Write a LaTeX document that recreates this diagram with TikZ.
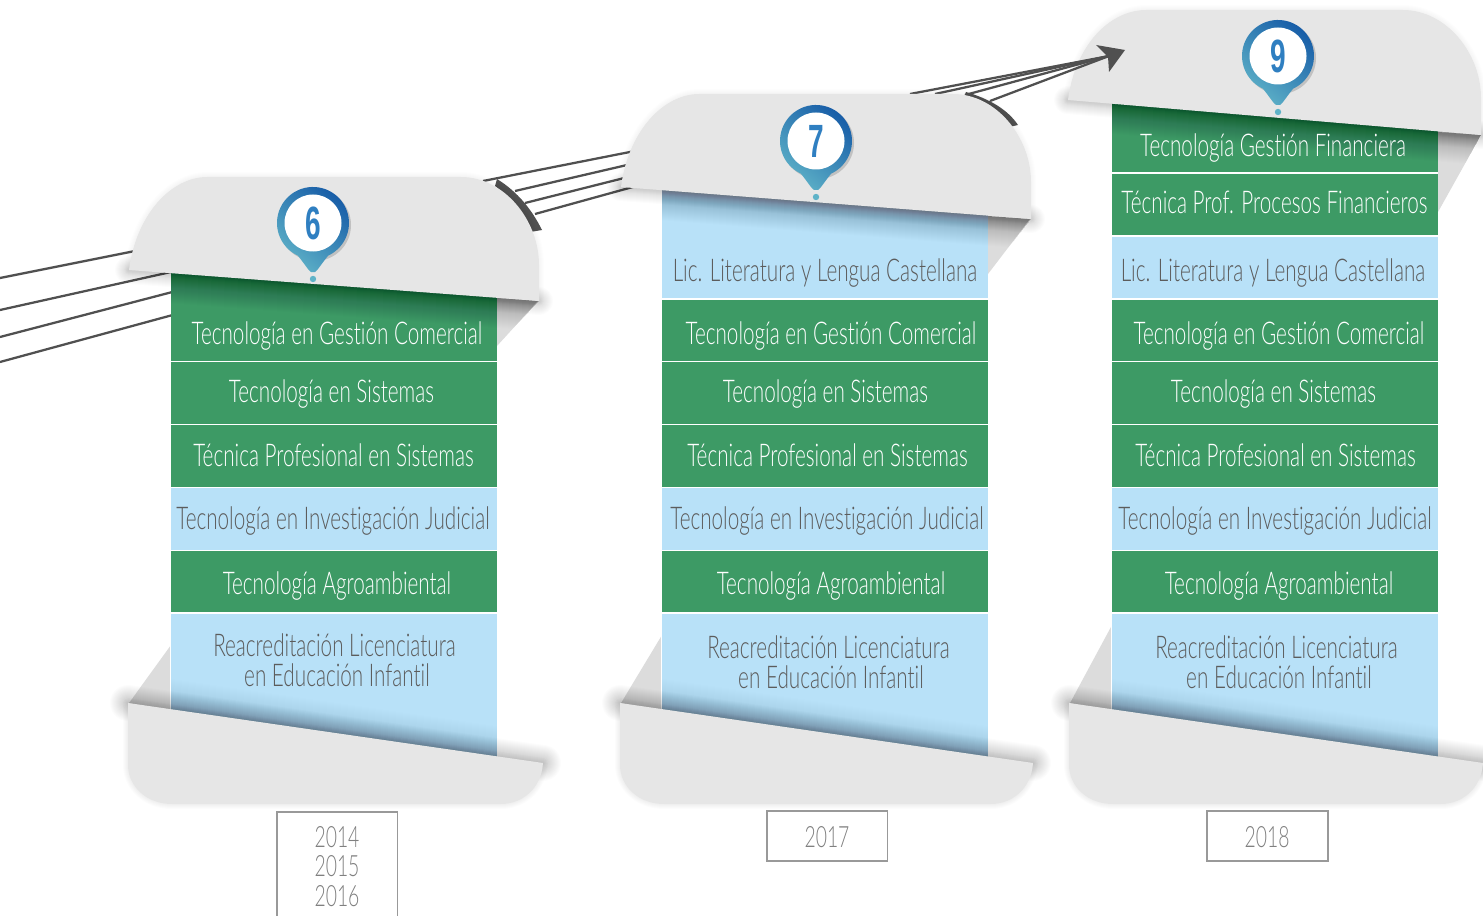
\documentclass[tikz,border=0pt]{standalone}
\usepackage{fontspec}
\usetikzlibrary{arrows.meta}
\setmainfont{Lato Light}[FakeStretch=0.66,Ligatures=NoCommon]
\newfontfamily\numfont{Liberation Sans Bold}[FakeStretch=0.6]
\definecolor{gr}{HTML}{3D9A65}
\definecolor{lb}{HTML}{B8E1F8}
\definecolor{fl}{HTML}{E6E6E6}
\definecolor{tl}{HTML}{DCDCDC}
\definecolor{ln}{HTML}{505050}
\definecolor{pinA}{HTML}{1459A6}
\definecolor{pinB}{HTML}{5FB3C8}
\definecolor{numc}{HTML}{2F7FC1}
\definecolor{dk}{HTML}{5C5C5C}
\tikzset{
 rowg/.style={fill=gr},
 rowb/.style={fill=lb},
 wt/.style={text=white,font=\fontsize{23.5}{26}\selectfont,inner sep=0pt,anchor=base,yshift=-7.5pt},
 dt/.style={text=dk,font=\fontsize{23.5}{24}\selectfont,inner sep=0pt,anchor=base,yshift=-7.5pt},
 yr/.style={text=black!50,font=\fontsize{22}{22.2}\selectfont,inner sep=0pt,anchor=base,yshift=-7.5pt},
 yrbox/.style={draw=black!40,line width=.9pt},
 wire/.style={draw=ln,line width=1.7pt},
 flapf/.style={fill=fl},
}
\newcommand\soft[2]{\foreach \w in {2,4,...,#1}{\draw[line width=\w*.75pt,black,opacity=#2,line join=round,line cap=round] \thepathx;}}
\newcommand\rowscommon[1]{%
 \fill[rowg] (#1,300) rectangle ++(326,60.5);
 \fill[rowg] (#1,362) rectangle ++(326,61.5);
 \fill[rowg] (#1,425) rectangle ++(326,61.5);
 \fill[rowb] (#1,488) rectangle ++(326,61.5);
 \fill[rowg] (#1,551) rectangle ++(326,61);
 \fill[rowb] (#1,614) rectangle ++(326,146);
 \fill[white] (#1-1,612) rectangle ++(1,98);
}
\newcommand\rowtexts[3]{%
 \node[wt] (#3a) at (831+#1,334) {Tecnología en Gestión Comercial};
 \node[wt] (#3b) at (825.5+#1,392) {Tecnología en Sistemas};
 \node[wt] (#3c) at (827.5+#1,456) {Técnica Profesional en Sistemas};
 \node[dt] (#3d) at (827+#1,519) {Tecnología en Investigación Judicial};
 \node[wt] (#3e) at (831+#1,584) {Tecnología Agroambiental};
 \node[dt] (#3f) at (828.5+#1,646+#2) {Reacreditación Licenciatura};
 \node[dt] (#3g) at (831+#1,676+#2) {en Educación Infantil};
}
% upper flap: #1 band x, #2 lx,#3 ly,#4 rx,#5 ry,#6 top, #7 tail bottom
\newcommand\upflap[7]{%
 \def\thepathx{(#2,#3) .. controls (#2+7,#3-55) and (#2+42,#6) .. (#2+78,#6) -- (#4-78,#6) .. controls (#4-35,#6) and (#4,#6+43) .. (#4,#6+88) -- (#4,#5) -- cycle}
 \soft{10}{0.008}
 \def\thepathx{(#2,#3) -- (#4,#5)}
 \soft{28}{0.012}
 \begin{scope}
  \clip (#1,#3) rectangle (#1+326,#7) (#1+326,#5-3) -- (#4,#5) -- (#1+326,#7) -- cycle;
  \soft{60}{0.007}
 \end{scope}
 \fill[flapf] (#2,#3) .. controls (#2+7,#3-55) and (#2+42,#6) .. (#2+78,#6) -- (#4-78,#6) .. controls (#4-35,#6) and (#4,#6+43) .. (#4,#6+88) -- (#4,#5) -- cycle;
}
% lower flap: #1 lx, #2 rx, #3 band left
\newcommand\lowflap[3]{%
 \def\thepathx{(#1,703) -- (#2,763) .. controls (#2-2,790) and (#2-22,804) .. (#2-42,804) -- (#1+44,804) .. controls (#1+18,804) and (#1,786) .. (#1,765) -- cycle}
 \soft{10}{0.01}
 \def\thepathx{(#1,703) -- (#2,763)}
 \soft{36}{0.01}
 \begin{scope}
  \clip (#3,640) rectangle (#3+326,770);
  \soft{60}{0.004}
 \end{scope}
 \fill[flapf] (#1,703) -- (#2,763) .. controls (#2-2,790) and (#2-22,804) .. (#2-42,804) -- (#1+44,804) .. controls (#1+18,804) and (#1,786) .. (#1,765) -- cycle;
}
% pin: #1 x #2 y #3 digit #4 name
\newcommand\pin[4]{%
 \fill[black,opacity=.16] (#1+2,#2+2) circle (36);
 \shade[top color=pinA,bottom color=pinB,shading angle=-40]
   (#1-15.2,#2+32.6) .. controls (#1-9,#2+40) and (#1-5,#2+47) .. (#1-2,#2+49) -- (#1+2,#2+49) .. controls (#1+5,#2+47) and (#1+9,#2+40) .. (#1+15.2,#2+32.6)
   arc[start angle=65,end angle=-245,radius=36] -- cycle;
 \fill[white] (#1,#2) circle (28.5);
 \fill[pinB] (#1,#2+56) circle (3.2);
 \node[inner sep=0pt,text=numc,font=\numfont\fontsize{35}{36}\selectfont] (#4) at (#1,#2) {#3};
}
\begin{document}
\begin{tikzpicture}[x=.75pt,y=-.75pt]
\useasboundingbox (0,0) rectangle (1483,916);
% column 3 under the arrow
\fill[tl] (1438,130) -- (1481,135) -- (1438,212) -- cycle;
\fill[tl] (1070,703) -- (1112,625) -- (1112,712) -- cycle;
\fill[rowg] (1112,100) rectangle ++(326,72);
\fill[rowg] (1112,174) rectangle ++(326,61);
\fill[rowb] (1112,237) rectangle ++(326,61);
\rowscommon{1112}
\upflap{1112}{1068}{100}{1481}{135}{10}{212}
\lowflap{1069}{1483}{1112}
% wires
\coordinate (w1a) at (0,278); \coordinate (w1b) at (140,250);
\coordinate (w2a) at (0,310); \coordinate (w2b) at (180,270);
\coordinate (w3a) at (0,337); \coordinate (w3b) at (180,290);
\coordinate (w4a) at (0,362); \coordinate (w4b) at (180,313);
\draw[wire] (w1a)--(w1b); \draw[wire] (w2a)--(w2b); \draw[wire] (w3a)--(w3b); \draw[wire] (w4a)--(w4b);
\coordinate (m1a) at (483,181); \coordinate (m1b) at (640,150);
\coordinate (m2a) at (515,191); \coordinate (m2b) at (640,162);
\coordinate (m3a) at (525,203); \coordinate (m3b) at (640,174);
\coordinate (m4a) at (535,214); \coordinate (m4b) at (640,185);
\draw[wire] (m1a)--(m1b); \draw[wire] (m2a)--(m2b); \draw[wire] (m3a)--(m3b); \draw[wire] (m4a)--(m4b);
\fill[ln] (497,179) .. controls (518,192) and (532,210) .. (542,230) -- (530,232) .. controls (522,213) and (509,197) .. (495,186) -- cycle;
\coordinate (t) at (1109,56);
\coordinate (u1) at (910,94); \coordinate (u2) at (935,94); \coordinate (u3) at (965,95); \coordinate (u4) at (990,101);
\draw[wire] (u1)--(t); \draw[wire] (u2)--(t); \draw[wire] (u3)--(t); \draw[wire] (u4)--(t);
\fill[ln] (1096,45) -- (1125,50) -- (1109,72) -- (1108,57) -- cycle;
\fill[ln] (966,92) .. controls (990,99) and (1008,110) .. (1018,125) -- (1009,127) .. controls (1000,113) and (985,103) .. (964,97) -- cycle;
% tails
\fill[tl] (497,296) -- (538,301) -- (497,346) -- cycle;
\fill[tl] (129,703) -- (171,645) -- (171,712) -- cycle;
\fill[tl] (988,216) -- (1030,219) -- (988,274) -- cycle;
\fill[tl] (621,703) -- (662,635) -- (662,712) -- cycle;
% column 1
\fill[rowg] (171,270) rectangle ++(326,90.5);
\rowscommon{171}
% column 2
\fill[rowb] (662,185) rectangle ++(326,113);
\rowscommon{662}
% flaps
\upflap{171}{129}{270}{539}{301}{177}{346}
\lowflap{128}{543}{171}
\upflap{662}{621}{187}{1031}{219}{94}{274}
\lowflap{620}{1033}{662}
% pins
\pin{313}{223}{6}{pA}
\pin{816}{141}{7}{pB}
\pin{1278}{56}{9}{pC}
% texts
\rowtexts{-494}{0}{a}
\rowtexts{0}{2}{b}
\rowtexts{448}{2}{c}
\node[dt] (lb) at (825,271) {Lic. Literatura y Lengua Castellana};
\node[dt] (lc) at (1273,271) {Lic. Literatura y Lengua Castellana};
\node[wt] (fa) at (1273,147) {Tecnología Gestión Financiera};
\node[wt] (fb) at (1274.5,204) {Técnica Prof. Procesos Financieros};
% year boxes
\draw[yrbox] (277,916) |- (397.5,812) -- (397.5,916);
\draw[yrbox] (767,811) rectangle (887.5,861);
\draw[yrbox] (1207,811) rectangle (1328,861);
\node[yr] (y14) at (337,837) {2014};
\node[yr] (y15) at (337,866) {2015};
\node[yr] (y16) at (337,896) {2016};
\node[yr] (y17) at (827,837) {2017};
\node[yr] (y18) at (1267,837) {2018};
\end{tikzpicture}
\end{document}
